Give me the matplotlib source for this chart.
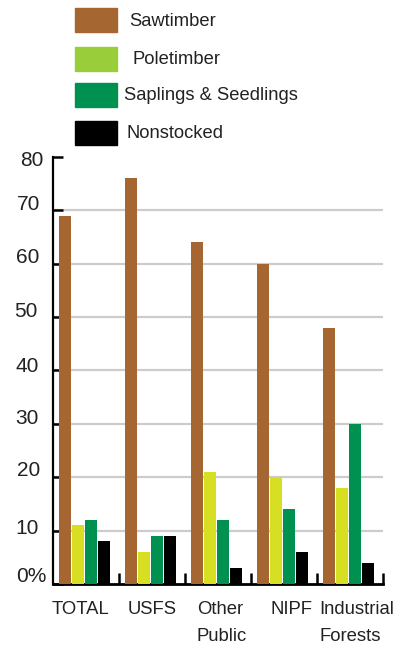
import matplotlib
matplotlib.use('Agg')
import matplotlib.pyplot as plt
import matplotlib.transforms as mtransforms
from matplotlib.patches import Rectangle
import numpy as np

plt.rcParams['font.family'] = ['Liberation Sans', 'DejaVu Sans']

groups = ['TOTAL', 'USFS', 'Other\nPublic', 'NIPF', 'Industrial\nForests']
series = ['Sawtimber', 'Poletimber', 'Saplings & Seedlings', 'Nonstocked']
sawtimber = [69, 76, 64, 60, 48]
poletimber = [11, 6, 21, 20, 18]
saplings = [12, 9, 12, 14, 30]
nonstocked = [8, 9, 3, 6, 4]
bar_colors = ['#a66632', '#d7df23', '#009150', '#000000']
legend_colors = ['#a66632', '#9acd3a', '#009150', '#000000']
yticks = [0, 10, 20, 30, 40, 50, 60, 70, 80]
ytick_labels = ['0%', '10', '20', '30', '40', '50', '60', '70', '80']

W, H = 393, 649
fig = plt.figure(figsize=(W / 100, H / 100), dpi=100)
ax = fig.add_axes([53 / W, 1 - 584 / H, 330 / W, (584 - 157) / H])

# bars sit inside each unit-wide group slot
values = [sawtimber, poletimber, saplings, nonstocked]
x = np.arange(len(groups))
width = 12 / 66
step = 13 / 66
start = 6 / 66
for k, vals in enumerate(values):
    ax.bar(x + start + k * step, vals, width=width, align='edge',
           color=bar_colors[k], zorder=3)

ax.hlines(yticks[1:-1], 0, 5, color='#cccccc', lw=1.6, zorder=1)

ax.set_xlim(0, 5)
ax.set_ylim(0, 80)
for s in ['top', 'right']:
    ax.spines[s].set_visible(False)
ax.spines['left'].set_linewidth(1.6)
ax.spines['bottom'].set_linewidth(2)

ax.set_yticks(yticks)
ax.set_yticklabels(ytick_labels, fontsize=15, color='#222222')
ax.tick_params(axis='y', direction='in', length=7, width=1.8, pad=10)
# hand-set nudges (px) so the labels sit as in the printed figure
nudge_x = [7, 0, 1, 0, 0, -2, 0, 1, 4]
nudge_y = [10, 4, 9, 7, 6, 8, 8, 8, -2]
for lab, dx, dy in zip(ax.get_yticklabels(), nudge_x, nudge_y):
    off = mtransforms.ScaledTranslation(dx / 100, dy / 100, fig.dpi_scale_trans)
    lab.set_transform(lab.get_transform() + off)

ax.set_xticks([1, 2, 3, 4, 5])
ax.set_xticklabels([])
ax.tick_params(axis='x', direction='in', length=8, width=1.8)

label_left = [-0.015, 1.13, 2.18, 3.29, 4.04]
for xl, g in zip(label_left, groups):
    ax.text(xl, -3.15, g, ha='left', va='top', fontsize=13.3,
            color='#222222', linespacing=1.75, clip_on=False)

# legend block above the plot
text_x = [129, 132, 124, 127]
box_top = [8, 47, 83, 121]
for k, name in enumerate(series):
    fig.patches.append(Rectangle((75 / W, 1 - (box_top[k] + 24) / H), 42 / W, 24 / H,
                                 transform=fig.transFigure, color=legend_colors[k]))
    fig.text(text_x[k] / W, 1 - (box_top[k] + 13) / H, name, ha='left',
             va='center', fontsize=13.2, color='#222222')

fig.savefig('out.png', dpi=100)
